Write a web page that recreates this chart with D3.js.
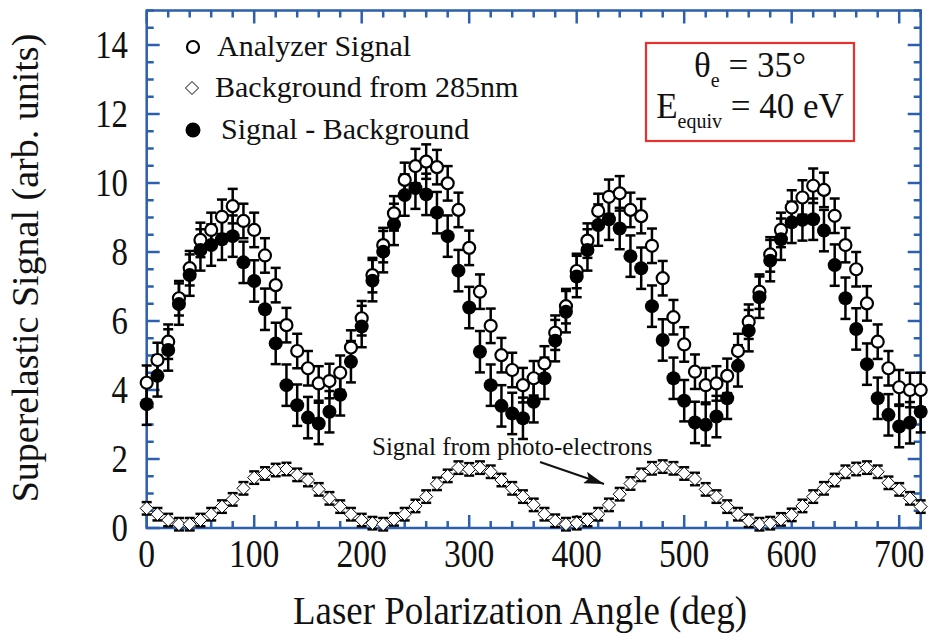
<!DOCTYPE html>
<html>
<head>
<meta charset="utf-8">
<script src="https://cdn.jsdelivr.net/npm/d3@7"></script>
<style>
  html, body { margin: 0; padding: 0; background: #fff; }
  svg { display: block; }
  text { font-family: "Liberation Serif", "Times New Roman", serif; fill: #111; }
</style>
</head>
<body>
<div id="chart"></div>
<script>

// constants and globals

const width = 930
const height = 644

// polarization angles (deg)
const angles = [0, 10, 20, 30, 40, 50, 60, 70, 80, 90, 100, 110, 120, 130, 140, 150, 160, 170, 180,
    190, 200, 210, 220, 230, 240, 250, 260, 270, 280, 290, 300, 310, 320, 330, 340, 350, 360,
    370, 380, 390, 400, 410, 420, 430, 440, 450, 460, 470, 480, 490, 500, 510, 520, 530, 540,
    550, 560, 570, 580, 590, 600, 610, 620, 630, 640, 650, 660, 670, 680, 690, 700, 710, 720]

// open circles
const analyzerSignal = [4.21, 4.87, 5.40, 6.66, 7.53, 8.35, 8.64, 9.02, 9.33, 8.90, 8.64, 7.90, 7.04,
    5.88, 5.13, 4.63, 4.19, 4.26, 4.50, 5.23, 6.08, 7.33, 8.20, 9.12, 10.09, 10.49, 10.62, 10.46,
    9.99, 9.22, 8.12, 6.85, 5.86, 5.01, 4.58, 4.14, 4.34, 4.77, 5.66, 6.43, 7.45, 8.33, 9.19, 9.60,
    9.70, 9.22, 9.04, 8.18, 7.24, 6.11, 5.32, 4.53, 4.14, 4.19, 4.41, 5.13, 5.98, 6.85, 7.93, 8.64,
    9.29, 9.58, 9.92, 9.80, 9.05, 8.20, 7.50, 6.51, 5.40, 4.63, 4.08, 4.00, 4.00]

// diamonds
const background = [0.57, 0.40, 0.23, 0.11, 0.11, 0.23, 0.40, 0.62, 0.83, 1.15, 1.46, 1.58, 1.68,
    1.71, 1.54, 1.39, 1.12, 0.86, 0.62, 0.40, 0.23, 0.14, 0.11, 0.25, 0.40, 0.64, 0.91, 1.28, 1.51,
    1.75, 1.70, 1.75, 1.63, 1.39, 1.15, 0.91, 0.67, 0.40, 0.21, 0.11, 0.14, 0.23, 0.40, 0.67, 0.98,
    1.29, 1.54, 1.73, 1.78, 1.73, 1.58, 1.42, 1.12, 0.91, 0.62, 0.40, 0.21, 0.11, 0.14, 0.25, 0.38,
    0.64, 0.91, 1.15, 1.39, 1.63, 1.71, 1.75, 1.63, 1.31, 1.12, 0.86, 0.62]

// filled circles
const signalMinusBg = [3.59, 4.41, 5.16, 6.49, 7.33, 8.06, 8.20, 8.37, 8.46, 7.70, 7.16, 6.34, 5.35,
    4.14, 3.56, 3.20, 3.03, 3.37, 3.86, 4.82, 5.84, 7.17, 8.01, 8.80, 9.65, 9.85, 9.67, 9.14, 8.46,
    7.46, 6.39, 5.11, 4.14, 3.54, 3.32, 3.18, 3.66, 4.34, 5.43, 6.27, 7.29, 8.06, 8.78, 8.95, 8.68,
    7.88, 7.53, 6.43, 5.45, 4.34, 3.69, 3.06, 2.99, 3.23, 3.76, 4.70, 5.72, 6.69, 7.75, 8.37, 8.86,
    8.93, 8.95, 8.62, 7.62, 6.66, 5.77, 4.75, 3.76, 3.28, 2.94, 3.05, 3.37]

// error bar half-widths
const analyzerErr = 0.5
const backgroundErr = 0.18
const diffErr = 0.6

const xTicks = [0, 100, 200, 300, 400, 500, 600, 700]
const yTicks = [0, 2, 4, 6, 8, 10, 12, 14]

const legendLabels = ["Analyzer Signal", "Background from 285nm", "Signal - Background"]

const blue = "#2d5fae"

// scales
const xScale = d3.scaleLinear().domain([0, 720]).range([146.7, 920.7])
const yScale = d3.scaleLinear().domain([0, 15]).range([528, 10.5])

const svg = d3.select("#chart").append("svg")
    .attr("width", width)
    .attr("height", height)

// frame + ticks (inward on all four sides)
const xMinor = d3.range(0, 721, 20)
const yMinor = d3.range(0, 15.01, 0.5)

const axes = svg.append("g").attr("stroke", blue).attr("stroke-width", 2.5)

axes.append("rect")
    .attr("x", xScale(0)).attr("y", yScale(15))
    .attr("width", xScale(720) - xScale(0))
    .attr("height", yScale(0) - yScale(15))
    .attr("fill", "none")

xMinor.forEach(v => {
    const len = v % 100 === 0 ? 13 : 7
    axes.append("line").attr("x1", xScale(v)).attr("x2", xScale(v))
        .attr("y1", yScale(0)).attr("y2", yScale(0) - len)
    axes.append("line").attr("x1", xScale(v)).attr("x2", xScale(v))
        .attr("y1", yScale(15)).attr("y2", yScale(15) + len)
})
yMinor.forEach(v => {
    const len = v % 2 === 0 ? 13 : 7
    axes.append("line").attr("y1", yScale(v)).attr("y2", yScale(v))
        .attr("x1", xScale(0)).attr("x2", xScale(0) + len)
    axes.append("line").attr("y1", yScale(v)).attr("y2", yScale(v))
        .attr("x1", xScale(720)).attr("x2", xScale(720) - len)
})

// tick labels (the original type is a bit condensed)
svg.append("g").selectAll("text")
    .data(xTicks)
    .join("text")
    .attr("transform", d => `translate(${xScale(d)},567) scale(0.82,1)`)
    .attr("text-anchor", "middle")
    .style("font-size", "41px")
    .text(d => d)

svg.append("g").selectAll("text")
    .data(yTicks)
    .join("text")
    .attr("transform", d => `translate(128,${yScale(d) + 13}) scale(0.82,1)`)
    .attr("text-anchor", "end")
    .style("font-size", "40px")
    .text(d => d)

// axis titles
svg.append("text")
    .attr("transform", "translate(520,624) scale(0.9,1)")
    .attr("text-anchor", "middle")
    .style("font-size", "41px")
    .text("Laser Polarization Angle (deg)")

svg.append("text")
    .attr("transform", "translate(38,268) rotate(-90)")
    .attr("text-anchor", "middle")
    .style("font-size", "38px")
    .text("Superelastic Signal (arb. units)")

// data rows
const rows = angles.map((a, i) => ({
    a: a,
    sig: analyzerSignal[i],
    bg: background[i],
    diff: signalMinusBg[i]
}))

function errorBars(g, key, err) {
    const eb = g.append("g").attr("stroke", "#000").attr("stroke-width", 2.5)
    rows.forEach(d => {
        const x = xScale(d.a)
        const y0 = yScale(d[key] - err), y1 = yScale(d[key] + err)
        eb.append("line").attr("x1", x).attr("x2", x).attr("y1", y0).attr("y2", y1)
        eb.append("line").attr("x1", x - 5).attr("x2", x + 5).attr("y1", y0).attr("y2", y0)
        eb.append("line").attr("x1", x - 5).attr("x2", x + 5).attr("y1", y1).attr("y2", y1)
    })
}

const plot = svg.append("g")

// background diamonds
errorBars(plot, "bg", backgroundErr)
const diamond = s => `M0,${-s}L${s},0L0,${s}L${-s},0Z`
plot.append("g").selectAll("path")
    .data(rows)
    .join("path")
    .attr("transform", d => `translate(${xScale(d.a)},${yScale(d.bg)})`)
    .attr("d", diamond(6.5))
    .attr("fill", "#fff")
    .attr("stroke", "#000")
    .attr("stroke-width", 1)

// analyzer signal
errorBars(plot, "sig", analyzerErr)
errorBars(plot, "diff", diffErr)
plot.append("g").selectAll("circle")
    .data(rows)
    .join("circle")
    .attr("cx", d => xScale(d.a))
    .attr("cy", d => yScale(d.sig))
    .attr("r", 6)
    .attr("fill", "#fff")
    .attr("stroke", "#000")
    .attr("stroke-width", 2.2)

// signal minus background
plot.append("g").selectAll("circle")
    .data(rows)
    .join("circle")
    .attr("cx", d => xScale(d.a))
    .attr("cy", d => yScale(d.diff))
    .attr("r", 7)
    .attr("fill", "#000")

// legend
const legend = svg.append("g")
legend.append("circle").attr("cx", 193).attr("cy", 47).attr("r", 6)
    .attr("fill", "#fff").attr("stroke", "#000").attr("stroke-width", 2.2)
legend.append("path").attr("transform", "translate(192,88)").attr("d", diamond(6.5))
    .attr("fill", "#fff").attr("stroke", "#000").attr("stroke-width", 1)
legend.append("circle").attr("cx", 193).attr("cy", 130).attr("r", 7.5).attr("fill", "#000")
legend.selectAll("text")
    .data(legendLabels)
    .join("text")
    .attr("x", (d, i) => [217, 215, 221][i])
    .attr("y", (d, i) => [56, 97, 139][i])
    .style("font-size", "30px")
    .text(d => d)

// parameter box
svg.append("rect")
    .attr("x", 646).attr("y", 43).attr("width", 208).attr("height", 98)
    .attr("fill", "none").attr("stroke", "#e8312f").attr("stroke-width", 2.2)

const t1 = svg.append("text").attr("x", 750).attr("y", 77).attr("text-anchor", "middle")
    .style("font-size", "35px")
t1.append("tspan").text("θ")
t1.append("tspan").attr("dy", 10).style("font-size", "20px").text("e")
t1.append("tspan").attr("dy", -10).text(" = 35°")

const t2 = svg.append("text").attr("x", 750).attr("y", 118).attr("text-anchor", "middle")
    .style("font-size", "35px")
t2.append("tspan").text("E")
t2.append("tspan").attr("dy", 10).style("font-size", "20px").text("equiv")
t2.append("tspan").attr("dy", -10).text(" = 40 eV")

// annotation
svg.append("text")
    .attr("x", 372).attr("y", 455)
    .style("font-size", "25px")
    .text("Signal from photo-electrons")

svg.append("defs").append("marker")
    .attr("id", "head")
    .attr("viewBox", "0 0 20 12")
    .attr("refX", 20).attr("refY", 6)
    .attr("markerWidth", 20).attr("markerHeight", 12)
    .attr("markerUnits", "userSpaceOnUse")
    .attr("orient", "auto")
    .append("path").attr("d", "M0,0L20,6L0,12L4,6Z").attr("fill", "#111")

svg.append("line")
    .attr("x1", 540).attr("y1", 462).attr("x2", 604).attr("y2", 484)
    .attr("stroke", "#111").attr("stroke-width", 2)
    .attr("marker-end", "url(#head)")

</script>
</body>
</html>
